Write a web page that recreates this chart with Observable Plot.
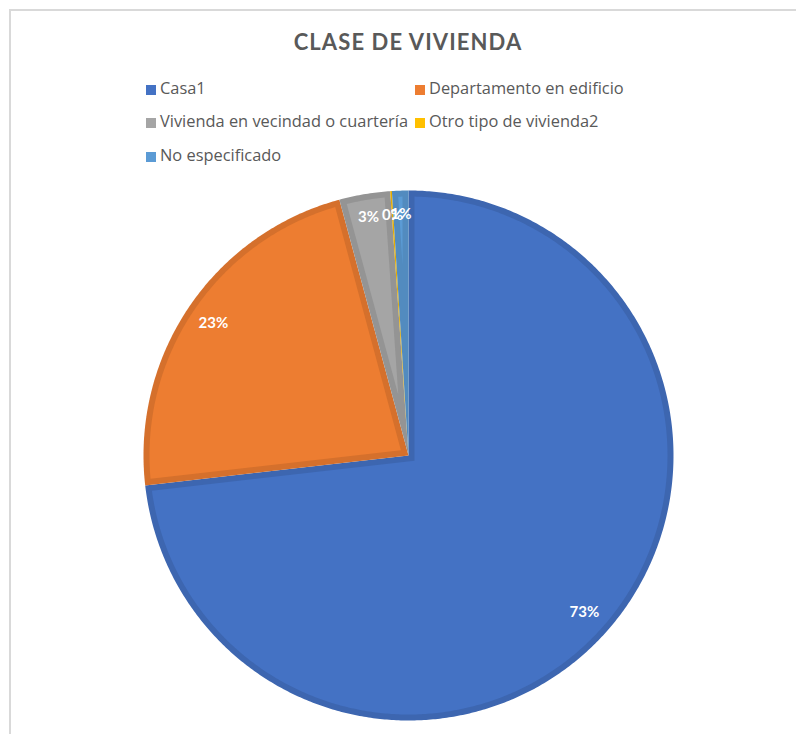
<!DOCTYPE html>
<html>
<head>
<meta charset="utf-8">
<script src="https://cdn.jsdelivr.net/npm/d3@7"></script>
<script src="https://cdn.jsdelivr.net/npm/@observablehq/plot@0.6"></script>
<style>
  html, body { margin: 0; padding: 0; background: #fff; }
  #chart { position: relative; width: 796px; height: 734px; overflow: hidden; font-family: Lato, "Open Sans", sans-serif; }
  #frame { position: absolute; left: 9px; top: 9px; width: 800px; height: 800px; border-left: 2px solid #D9D9D9; border-top: 2px solid #D9D9D9; }
  #title { position: absolute; left: 0; width: 816px; top: 27px; text-align: center; font-size: 22px; font-weight: bold; color: #595959; letter-spacing: 1.1px; line-height: 30px; }
  .leg { position: absolute; font-family: "Open Sans", Lato, sans-serif; font-size: 16.4px; color: #595959; line-height: 20px; white-space: nowrap; }
  .leg .sw { display: inline-block; width: 10px; height: 10px; margin-right: 4px; vertical-align: -1px; }
  #plot { position: absolute; left: 0; top: 0; }
</style>
</head>
<body>
<div id="chart">
  <div id="frame"></div>
  <div id="title"></div>
  <div id="legend"></div>
  <div id="plot"></div>
</div>
<script>
const title = "CLASE DE VIVIENDA";
const categories = ["Casa1", "Departamento en edificio", "Vivienda en vecindad o cuartería", "Otro tipo de vivienda2", "No especificado"];
const values = [73.2, 22.6, 3.1, 0.1, 1.0];
const colors = ["#4472C4", "#ED7D31", "#A5A5A5", "#FFC000", "#5B9BD5"];

document.getElementById("title").textContent = title;

// legend (two columns)
const legendCols = [146, 415];
const legendRows = [88, 121, 155];
const legend = document.getElementById("legend");
categories.forEach((c, i) => {
  const el = document.createElement("div");
  el.className = "leg";
  el.style.left = legendCols[i % 2] + "px";
  el.style.top = (legendRows[Math.floor(i / 2)] - 10) + "px";
  const sw = document.createElement("span");
  sw.className = "sw";
  sw.style.background = colors[i];
  el.appendChild(sw);
  el.appendChild(document.createTextNode(c));
  legend.appendChild(el);
});

// pie geometry in unit coordinates (angle clockwise from top)
const total = d3.sum(values);
const pie = d3.pie().sort(null).value(d => d)(values);
const d = 6 / 265; // border width relative to radius
const step = Math.PI / 360;
function arcPts(r, a0, a1) {
  const n = Math.max(2, Math.ceil((a1 - a0) / step));
  return d3.range(n + 1).map(k => {
    const a = a0 + (a1 - a0) * k / n;
    return {x: r * Math.sin(a), y: r * Math.cos(a)};
  });
}
const marks = [];
pie.forEach((p, i) => {
  const a0 = p.startAngle, a1 = p.endAngle, th = a1 - a0;
  const outer = [{x: 0, y: 0}, ...arcPts(1, a0, a1), {x: 0, y: 0}];
  const dark = d3.color(colors[i]).darker(0.3).formatHex();
  marks.push(Plot.line(outer, {x: "x", y: "y", fill: dark, stroke: "none"}));
  const r = 1 - d;
  const delta = Math.asin(d / r);
  const m = (a0 + a1) / 2;
  const apexDist = d / Math.sin(th / 2);
  if (th > 2 * delta && apexDist < r) {
    const apex = {x: apexDist * Math.sin(m), y: apexDist * Math.cos(m)};
    const inner = [apex, ...arcPts(r, a0 + delta, a1 - delta), apex];
    marks.push(Plot.line(inner, {x: "x", y: "y", fill: colors[i], stroke: "none"}));
  }
});

const labels = pie.map((p, i) => {
  const m = (p.startAngle + p.endAngle) / 2;
  const lr = i >= 2 ? 0.91 : 0.89;
  return {x: lr * Math.sin(m), y: lr * Math.cos(m), text: Math.round(values[i] / total * 100) + "%"};
});
marks.push(Plot.text(labels, {x: "x", y: "y", text: "text", fill: "white", fontSize: 15, fontWeight: "bold", fontFamily: "Lato, 'Open Sans', sans-serif"}));

const svg = Plot.plot({
  width: 796,
  height: 734,
  margin: 0,
  style: {background: "transparent", overflow: "visible"},
  x: {domain: [-1, 1], range: [143, 673], axis: null},
  y: {domain: [-1, 1], range: [720, 190], axis: null},
  marks
});
document.getElementById("plot").appendChild(svg);
</script>
</body>
</html>
